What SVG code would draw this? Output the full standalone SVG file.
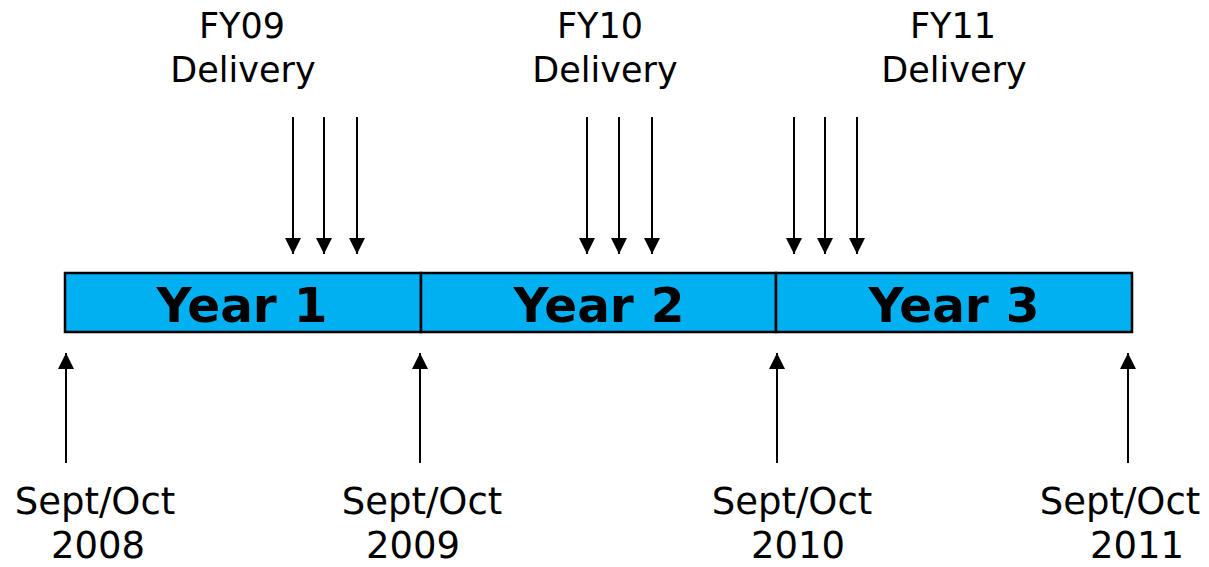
<svg xmlns="http://www.w3.org/2000/svg" width="1209" height="567" viewBox="0 0 1209 567">
<style>
.lbl{font-family:"DejaVu Sans","Liberation Sans",sans-serif;fill:#000;text-anchor:middle}
.top{font-size:35px}
.bot{font-size:37px}
.yr{font-family:"DejaVu Sans","Liberation Sans",sans-serif;font-weight:bold;font-size:48.5px;text-anchor:middle;fill:#000}
.seg{fill:#00B0F0;stroke:#000;stroke-width:2.5}
.ar{stroke:#000;stroke-width:2;fill:none}
</style>
<defs>
<marker id="ah" viewBox="0 0 16 16" refX="16" refY="8" markerWidth="16" markerHeight="16" markerUnits="userSpaceOnUse" orient="auto">
<path d="M0,0 L16,8 L0,16 Z" fill="#000"/>
</marker>
</defs>
<rect width="1209" height="567" fill="#fff"/>
<g id="year1"><rect class="seg" x="65" y="273" width="356" height="59"/><text class="yr" x="242" y="322">Year 1</text></g>
<g id="year2"><rect class="seg" x="421" y="273" width="355" height="59"/><text class="yr" x="599" y="322">Year 2</text></g>
<g id="year3"><rect class="seg" x="776" y="273" width="356" height="59"/><text class="yr" x="954" y="322">Year 3</text></g>
<g id="fy09"><text class="lbl top" x="242" y="38">FY09</text><text class="lbl top" x="243" y="82">Delivery</text></g>
<g id="fy10"><text class="lbl top" x="600" y="38">FY10</text><text class="lbl top" x="605" y="82">Delivery</text></g>
<g id="fy11"><text class="lbl top" x="953" y="38">FY11</text><text class="lbl top" x="954" y="82">Delivery</text></g>
<g id="d2008"><text class="lbl bot" x="95" y="514">Sept/Oct</text><text class="lbl bot" x="98" y="558">2008</text></g>
<g id="d2009"><text class="lbl bot" x="422" y="514">Sept/Oct</text><text class="lbl bot" x="413" y="558">2009</text></g>
<g id="d2010"><text class="lbl bot" x="792" y="514">Sept/Oct</text><text class="lbl bot" x="798" y="558">2010</text></g>
<g id="d2011"><text class="lbl bot" x="1120" y="514">Sept/Oct</text><text class="lbl bot" x="1137" y="558">2011</text></g>
<g id="connectors">
<line class="ar" x1="293" y1="117" x2="293" y2="254" marker-end="url(#ah)"/>
<line class="ar" x1="324" y1="117" x2="324" y2="254" marker-end="url(#ah)"/>
<line class="ar" x1="357" y1="117" x2="357" y2="254" marker-end="url(#ah)"/>
<line class="ar" x1="587" y1="117" x2="587" y2="254" marker-end="url(#ah)"/>
<line class="ar" x1="619" y1="117" x2="619" y2="254" marker-end="url(#ah)"/>
<line class="ar" x1="652" y1="117" x2="652" y2="254" marker-end="url(#ah)"/>
<line class="ar" x1="794" y1="117" x2="794" y2="254" marker-end="url(#ah)"/>
<line class="ar" x1="825" y1="117" x2="825" y2="254" marker-end="url(#ah)"/>
<line class="ar" x1="857" y1="117" x2="857" y2="254" marker-end="url(#ah)"/>
<line class="ar" x1="66" y1="463" x2="66" y2="353" marker-end="url(#ah)"/>
<line class="ar" x1="420" y1="463" x2="420" y2="353" marker-end="url(#ah)"/>
<line class="ar" x1="777" y1="463" x2="777" y2="353" marker-end="url(#ah)"/>
<line class="ar" x1="1128" y1="463" x2="1128" y2="353" marker-end="url(#ah)"/>
</g>
</svg>
